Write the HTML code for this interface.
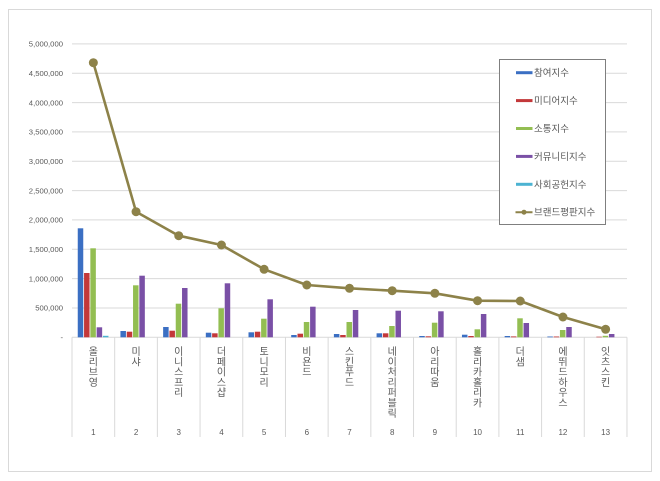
<!DOCTYPE html>
<html><head><meta charset="utf-8"><style>
html,body{margin:0;padding:0;background:#fff;}
svg{display:block;}
.b{fill:#3B6FC3}.r{fill:#C3383A}.g{fill:#93BE52}.p{fill:#7A50A6}.c{fill:#4CB3D2}
.grid{stroke:#d9d9d9;stroke-width:1}
.yl{font-family:"Liberation Sans",sans-serif;font-size:7.7px;fill:#595959;text-anchor:end}
.k{font-family:"Liberation Sans","Noto Sans CJK KR",sans-serif;font-size:10px;fill:#595959;text-anchor:middle}
.n{font-family:"Liberation Sans",sans-serif;font-size:8px;fill:#595959;text-anchor:middle}
.lg{font-family:"Liberation Sans","Noto Sans CJK KR",sans-serif;font-size:9.5px;fill:#595959}
</style></head><body>
<svg width="660" height="481" viewBox="0 0 660 481" xmlns="http://www.w3.org/2000/svg">
<rect x="0" y="0" width="660" height="481" fill="#fff"/>
<rect x="8.5" y="9.5" width="643" height="462" fill="#fff" stroke="#d9d9d9"/>
<!-- gridlines -->
<g class="grid">
<line x1="72" x2="627" y1="43.9" y2="43.9"/>
<line x1="72" x2="627" y1="73.2" y2="73.2"/>
<line x1="72" x2="627" y1="102.6" y2="102.6"/>
<line x1="72" x2="627" y1="131.9" y2="131.9"/>
<line x1="72" x2="627" y1="161.3" y2="161.3"/>
<line x1="72" x2="627" y1="190.6" y2="190.6"/>
<line x1="72" x2="627" y1="219.9" y2="219.9"/>
<line x1="72" x2="627" y1="249.3" y2="249.3"/>
<line x1="72" x2="627" y1="278.6" y2="278.6"/>
<line x1="72" x2="627" y1="308.0" y2="308.0"/>
<line x1="72" x2="627" y1="337.3" y2="337.3"/>
<line x1="72" x2="72" y1="337.3" y2="437"/>
<line x1="114.69" x2="114.69" y1="337.3" y2="437"/>
<line x1="157.38" x2="157.38" y1="337.3" y2="437"/>
<line x1="200.07" x2="200.07" y1="337.3" y2="437"/>
<line x1="242.76" x2="242.76" y1="337.3" y2="437"/>
<line x1="285.45" x2="285.45" y1="337.3" y2="437"/>
<line x1="328.14" x2="328.14" y1="337.3" y2="437"/>
<line x1="370.83" x2="370.83" y1="337.3" y2="437"/>
<line x1="413.52" x2="413.52" y1="337.3" y2="437"/>
<line x1="456.21" x2="456.21" y1="337.3" y2="437"/>
<line x1="498.9" x2="498.9" y1="337.3" y2="437"/>
<line x1="541.59" x2="541.59" y1="337.3" y2="437"/>
<line x1="584.28" x2="584.28" y1="337.3" y2="437"/>
<line x1="626.97" x2="626.97" y1="337.3" y2="437"/>
</g>
<!-- y labels -->
<text class="yl" x="63" y="46.6">5,000,000</text>
<text class="yl" x="63" y="75.9">4,500,000</text>
<text class="yl" x="63" y="105.3">4,000,000</text>
<text class="yl" x="63" y="134.6">3,500,000</text>
<text class="yl" x="63" y="164.0">3,000,000</text>
<text class="yl" x="63" y="193.3">2,500,000</text>
<text class="yl" x="63" y="222.6">2,000,000</text>
<text class="yl" x="63" y="252.0">1,500,000</text>
<text class="yl" x="63" y="281.3">1,000,000</text>
<text class="yl" x="63" y="310.7">500,000</text>
<text class="yl" x="63" y="340.0">-</text>
<!-- bars -->
<g transform="translate(93.35,337.3) scale(1,-1)"><rect class="b" x="-15.6" width="5.5" height="109"/><rect class="r" x="-9.3" width="5.5" height="64.3"/><rect class="g" x="-3" width="5.5" height="89"/><rect class="p" x="3.3" width="5.5" height="10"/><rect class="c" x="9.6" width="5.5" height="1.5"/></g>
<g transform="translate(136.04,337.3) scale(1,-1)"><rect class="b" x="-15.6" width="5.5" height="6.3"/><rect class="r" x="-9.3" width="5.5" height="5.6"/><rect class="g" x="-3" width="5.5" height="52"/><rect class="p" x="3.3" width="5.5" height="61.6"/></g>
<g transform="translate(178.73,337.3) scale(1,-1)"><rect class="b" x="-15.6" width="5.5" height="10.3"/><rect class="r" x="-9.3" width="5.5" height="6.6"/><rect class="g" x="-3" width="5.5" height="33.6"/><rect class="p" x="3.3" width="5.5" height="49.3"/></g>
<g transform="translate(221.42,337.3) scale(1,-1)"><rect class="b" x="-15.6" width="5.5" height="4.6"/><rect class="r" x="-9.3" width="5.5" height="4"/><rect class="g" x="-3" width="5.5" height="29"/><rect class="p" x="3.3" width="5.5" height="54"/></g>
<g transform="translate(264.11,337.3) scale(1,-1)"><rect class="b" x="-15.6" width="5.5" height="5"/><rect class="r" x="-9.3" width="5.5" height="5.6"/><rect class="g" x="-3" width="5.5" height="18.6"/><rect class="p" x="3.3" width="5.5" height="38"/></g>
<g transform="translate(306.8,337.3) scale(1,-1)"><rect class="b" x="-15.6" width="5.5" height="2.3"/><rect class="r" x="-9.3" width="5.5" height="3.6"/><rect class="g" x="-3" width="5.5" height="15.3"/><rect class="p" x="3.3" width="5.5" height="30.6"/></g>
<g transform="translate(349.49,337.3) scale(1,-1)"><rect class="b" x="-15.6" width="5.5" height="3.3"/><rect class="r" x="-9.3" width="5.5" height="2.3"/><rect class="g" x="-3" width="5.5" height="15.3"/><rect class="p" x="3.3" width="5.5" height="27.3"/></g>
<g transform="translate(392.18,337.3) scale(1,-1)"><rect class="b" x="-15.6" width="5.5" height="4"/><rect class="r" x="-9.3" width="5.5" height="4"/><rect class="g" x="-3" width="5.5" height="11.3"/><rect class="p" x="3.3" width="5.5" height="26.6"/></g>
<g transform="translate(434.87,337.3) scale(1,-1)"><rect class="b" x="-15.6" width="5.5" height="1.3"/><rect class="r" x="-9.3" width="5.5" height="1"/><rect class="g" x="-3" width="5.5" height="14.6"/><rect class="p" x="3.3" width="5.5" height="26"/></g>
<g transform="translate(477.56,337.3) scale(1,-1)"><rect class="b" x="-15.6" width="5.5" height="2.6"/><rect class="r" x="-9.3" width="5.5" height="1.3"/><rect class="g" x="-3" width="5.5" height="8"/><rect class="p" x="3.3" width="5.5" height="23.3"/></g>
<g transform="translate(520.25,337.3) scale(1,-1)"><rect class="b" x="-15.6" width="5.5" height="1.3"/><rect class="r" x="-9.3" width="5.5" height="0.9"/><rect class="g" x="-3" width="5.5" height="19"/><rect class="p" x="3.3" width="5.5" height="14.3"/></g>
<g transform="translate(562.94,337.3) scale(1,-1)"><rect class="b" x="-15.6" width="5.5" height="0.8"/><rect class="r" x="-9.3" width="5.5" height="0.8"/><rect class="g" x="-3" width="5.5" height="7.3"/><rect class="p" x="3.3" width="5.5" height="10.3"/></g>
<g transform="translate(605.63,337.3) scale(1,-1)"><rect class="r" x="-9.3" width="5.5" height="0.6"/><rect class="g" x="-3" width="5.5" height="1.5"/><rect class="p" x="3.3" width="5.5" height="3.3"/></g>
<!-- line series -->
<polyline fill="none" stroke="#8D8249" stroke-width="2.6" stroke-linejoin="round" points="93.35,62.7 136.04,211.7 178.73,235.7 221.42,245 264.11,269.3 306.8,285 349.49,288.3 392.18,290.7 434.87,293.3 477.56,300.7 520.25,301 562.94,317 605.63,329.3"/>
<g fill="#8D8249">
<circle cx="93.35" cy="62.7" r="4.5"/><circle cx="136.04" cy="211.7" r="4.5"/><circle cx="178.73" cy="235.7" r="4.5"/><circle cx="221.42" cy="245" r="4.5"/><circle cx="264.11" cy="269.3" r="4.5"/><circle cx="306.8" cy="285" r="4.5"/><circle cx="349.49" cy="288.3" r="4.5"/><circle cx="392.18" cy="290.7" r="4.5"/><circle cx="434.87" cy="293.3" r="4.5"/><circle cx="477.56" cy="300.7" r="4.5"/><circle cx="520.25" cy="301" r="4.5"/><circle cx="562.94" cy="317" r="4.5"/><circle cx="605.63" cy="329.3" r="4.5"/>
</g>
<!-- category labels -->
<g transform="translate(93.35,0)"><text class="k" y="355"><tspan x="0">올</tspan><tspan x="0" dy="10.3">리</tspan><tspan x="0" dy="10.3">브</tspan><tspan x="0" dy="10.3">영</tspan></text><text class="n" x="0" y="435">1</text></g>
<g transform="translate(136.04,0)"><text class="k" y="355"><tspan x="0">미</tspan><tspan x="0" dy="10.3">샤</tspan></text><text class="n" x="0" y="435">2</text></g>
<g transform="translate(178.73,0)"><text class="k" y="355"><tspan x="0">이</tspan><tspan x="0" dy="10.3">니</tspan><tspan x="0" dy="10.3">스</tspan><tspan x="0" dy="10.3">프</tspan><tspan x="0" dy="10.3">리</tspan></text><text class="n" x="0" y="435">3</text></g>
<g transform="translate(221.42,0)"><text class="k" y="355"><tspan x="0">더</tspan><tspan x="0" dy="10.3">페</tspan><tspan x="0" dy="10.3">이</tspan><tspan x="0" dy="10.3">스</tspan><tspan x="0" dy="10.3">샵</tspan></text><text class="n" x="0" y="435">4</text></g>
<g transform="translate(264.11,0)"><text class="k" y="355"><tspan x="0">토</tspan><tspan x="0" dy="10.3">니</tspan><tspan x="0" dy="10.3">모</tspan><tspan x="0" dy="10.3">리</tspan></text><text class="n" x="0" y="435">5</text></g>
<g transform="translate(306.8,0)"><text class="k" y="355"><tspan x="0">비</tspan><tspan x="0" dy="10.3">욘</tspan><tspan x="0" dy="10.3">드</tspan></text><text class="n" x="0" y="435">6</text></g>
<g transform="translate(349.49,0)"><text class="k" y="355"><tspan x="0">스</tspan><tspan x="0" dy="10.3">킨</tspan><tspan x="0" dy="10.3">푸</tspan><tspan x="0" dy="10.3">드</tspan></text><text class="n" x="0" y="435">7</text></g>
<g transform="translate(392.18,0)"><text class="k" y="355"><tspan x="0">네</tspan><tspan x="0" dy="10.3">이</tspan><tspan x="0" dy="10.3">처</tspan><tspan x="0" dy="10.3">리</tspan><tspan x="0" dy="10.3">퍼</tspan><tspan x="0" dy="10.3">블</tspan><tspan x="0" dy="10.3">릭</tspan></text><text class="n" x="0" y="435">8</text></g>
<g transform="translate(434.87,0)"><text class="k" y="355"><tspan x="0">아</tspan><tspan x="0" dy="10.3">리</tspan><tspan x="0" dy="10.3">따</tspan><tspan x="0" dy="10.3">움</tspan></text><text class="n" x="0" y="435">9</text></g>
<g transform="translate(477.56,0)"><text class="k" y="355"><tspan x="0">홀</tspan><tspan x="0" dy="10.3">리</tspan><tspan x="0" dy="10.3">카</tspan><tspan x="0" dy="10.3">홀</tspan><tspan x="0" dy="10.3">리</tspan><tspan x="0" dy="10.3">카</tspan></text><text class="n" x="0" y="435">10</text></g>
<g transform="translate(520.25,0)"><text class="k" y="355"><tspan x="0">더</tspan><tspan x="0" dy="10.3">샘</tspan></text><text class="n" x="0" y="435">11</text></g>
<g transform="translate(562.94,0)"><text class="k" y="355"><tspan x="0">에</tspan><tspan x="0" dy="10.3">뛰</tspan><tspan x="0" dy="10.3">드</tspan><tspan x="0" dy="10.3">하</tspan><tspan x="0" dy="10.3">우</tspan><tspan x="0" dy="10.3">스</tspan></text><text class="n" x="0" y="435">12</text></g>
<g transform="translate(605.63,0)"><text class="k" y="355"><tspan x="0">잇</tspan><tspan x="0" dy="10.3">츠</tspan><tspan x="0" dy="10.3">스</tspan><tspan x="0" dy="10.3">킨</tspan></text><text class="n" x="0" y="435">13</text></g>
<!-- legend -->
<rect x="499.5" y="59.5" width="106" height="165" fill="#fff" stroke="#7f7f7f"/>
<rect class="b" x="516" y="71.2" width="16.5" height="3"/><text class="lg" x="534" y="76.2">참여지수</text>
<rect class="r" x="516" y="99.1" width="16.5" height="3"/><text class="lg" x="534" y="104.1">미디어지수</text>
<rect class="g" x="516" y="127" width="16.5" height="3"/><text class="lg" x="534" y="132">소통지수</text>
<rect class="p" x="516" y="154.9" width="16.5" height="3"/><text class="lg" x="534" y="159.9">커뮤니티지수</text>
<rect class="c" x="516" y="182.8" width="16.5" height="3"/><text class="lg" x="534" y="187.8">사회공헌지수</text>
<line x1="515.5" x2="532.5" y1="212.2" y2="212.2" stroke="#8D8249" stroke-width="2"/><circle cx="524" cy="212.2" r="2.5" fill="#8D8249"/><text class="lg" x="534" y="215.7">브랜드평판지수</text>
</svg>
</body></html>
